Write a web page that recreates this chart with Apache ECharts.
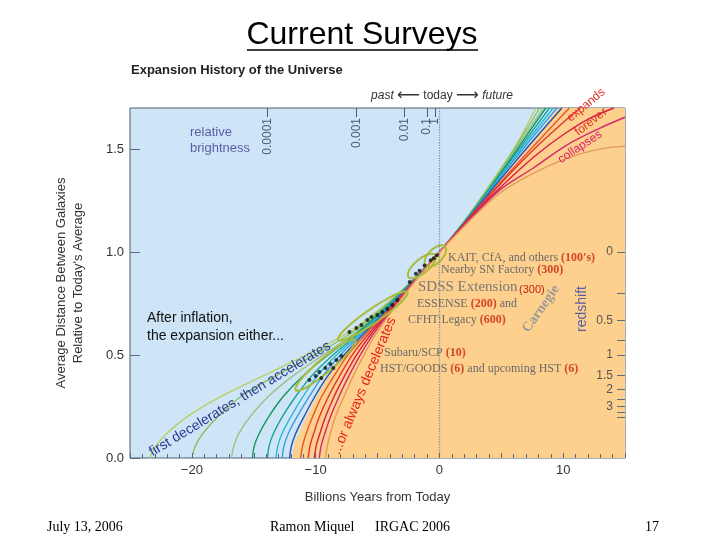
<!DOCTYPE html>
<html>
<head>
<meta charset="utf-8">
<script src="https://cdn.jsdelivr.net/npm/echarts@6/dist/echarts.min.js"></script>
<style>
  html, body { margin: 0; background: #fff; }
  #chart { width: 720px; height: 540px; }
</style>
</head>
<body>
<div id="chart"></div>
<script>
// Courbes d'expansion : [milliards d'années depuis aujourd'hui, distance relative]
const curveG1 = [[-23.4,0],[-22.9,0.06],[-22.0,0.12],[-20.4,0.2],[-17.6,0.3],[-14.2,0.4],[-10.8,0.5],[-7.6,0.6],[-5.3,0.7],[-3.3,0.8],[-1.56,0.9],[0,1],[2,1.15],[4,1.32],[6,1.5],[7.8,1.7]];
const curveG2 = [[-20.0,0],[-19.7,0.06],[-19.1,0.12],[-17.9,0.2],[-16.0,0.3],[-13.2,0.4],[-10.1,0.5],[-7.3,0.6],[-5.15,0.7],[-3.25,0.8],[-1.55,0.9],[0,1],[2,1.148],[4,1.315],[6,1.495],[8.1,1.7]];
const curveG3 = [[-16.8,0],[-16.6,0.06],[-16.2,0.12],[-15.3,0.2],[-13.8,0.3],[-11.8,0.4],[-9.4,0.5],[-7.0,0.6],[-5.0,0.7],[-3.2,0.8],[-1.54,0.9],[0,1],[2,1.146],[4,1.31],[6,1.485],[8.4,1.7]];
const curveG4 = [[-15.1,0],[-14.95,0.06],[-14.55,0.12],[-13.8,0.2],[-12.6,0.3],[-11.0,0.4],[-9.0,0.5],[-6.8,0.6],[-4.9,0.7],[-3.15,0.8],[-1.53,0.9],[0,1],[2,1.145],[4,1.305],[6,1.475],[8.6,1.7]];
const curveG5 = [[-13.9,0],[-13.75,0.06],[-13.4,0.12],[-12.7,0.2],[-11.6,0.3],[-10.3,0.4],[-8.6,0.5],[-6.6,0.6],[-4.8,0.7],[-3.1,0.8],[-1.52,0.9],[0,1],[2,1.144],[4,1.3],[6,1.465],[8.9,1.7]];
const curveC1 = [[-13.2,0],[-13.05,0.06],[-12.7,0.12],[-12.0,0.2],[-11.0,0.3],[-9.85,0.4],[-8.3,0.5],[-6.45,0.6],[-4.7,0.7],[-3.06,0.8],[-1.51,0.9],[0,1],[2,1.143],[4,1.295],[6,1.455],[9.2,1.7]];
const curveC2 = [[-12.7,0],[-12.55,0.06],[-12.2,0.12],[-11.5,0.2],[-10.5,0.3],[-9.4,0.4],[-8.0,0.5],[-6.3,0.6],[-4.62,0.7],[-3.02,0.8],[-1.5,0.9],[0,1],[2,1.142],[4,1.29],[6,1.445],[9.5,1.7]];
const curveB1 = [[-12.1,0],[-11.95,0.06],[-11.6,0.12],[-10.95,0.2],[-10.05,0.3],[-9.0,0.4],[-7.7,0.5],[-6.15,0.6],[-4.55,0.7],[-2.98,0.8],[-1.49,0.9],[0,1],[2,1.141],[4,1.285],[6,1.43],[8,1.57],[9.9,1.7]];
const curveR1 = [[-11.2,0],[-11.05,0.06],[-10.75,0.12],[-10.25,0.2],[-9.5,0.3],[-8.5,0.4],[-7.4,0.5],[-5.95,0.6],[-4.4,0.7],[-2.9,0.8],[-1.46,0.9],[0,1],[2,1.138],[4,1.275],[6,1.41],[8,1.54],[10.5,1.7]];
const curveR2 = [[-10.6,0],[-10.45,0.06],[-10.15,0.12],[-9.7,0.2],[-8.95,0.3],[-8.05,0.4],[-7.05,0.5],[-5.75,0.6],[-4.3,0.7],[-2.86,0.8],[-1.45,0.9],[0,1],[2,1.136],[4,1.27],[6,1.4],[8,1.52],[10,1.63],[11.4,1.7]];
const curveR3 = [[-10.1,0],[-9.95,0.06],[-9.65,0.12],[-9.2,0.2],[-8.5,0.3],[-7.65,0.4],[-6.7,0.5],[-5.55,0.6],[-4.2,0.7],[-2.82,0.8],[-1.44,0.9],[0,1],[2,1.134],[4,1.26],[6,1.375],[8,1.48],[10,1.57],[12,1.645],[14.1,1.7]];
const curveR4 = [[-9.7,0],[-9.55,0.06],[-9.25,0.12],[-8.8,0.2],[-8.1,0.3],[-7.3,0.4],[-6.4,0.5],[-5.35,0.6],[-4.1,0.7],[-2.78,0.8],[-1.43,0.9],[0,1],[2,1.13],[4.85,1.3],[7.5,1.405],[10.3,1.52],[12.9,1.6],[15,1.655]];
const curveR5 = [[-9.2,0],[-9.05,0.06],[-8.8,0.12],[-8.4,0.2],[-7.7,0.3],[-6.95,0.4],[-6.1,0.5],[-5.15,0.6],[-4.0,0.7],[-2.74,0.8],[-1.42,0.9],[0,1],[2,1.125],[4.85,1.285],[7.5,1.38],[10.3,1.455],[12.9,1.5],[15,1.515]];

// bord gauche de la zone orange
const orangeEdge = [[-11.9,0],[-11.75,0.06],[-11.35,0.12],[-10.75,0.2],[-9.9,0.3],[-8.9,0.4],[-7.6,0.5],[-6.1,0.6],[-4.5,0.7],[-2.95,0.8],[-1.48,0.9],[0,1],[2,1.14],[4,1.282],[6,1.425],[8,1.565],[10,1.7],[15,1.7]];

// supernovae observées
const snPoints = [[-0.2,0.985],[-0.45,0.97],[-0.7,0.96],[-1.2,0.935],[-1.6,0.91],[-1.9,0.895],[-2.4,0.855],
  [-7.27,0.612],[-6.71,0.631],[-6.3,0.646],[-5.82,0.67],[-5.49,0.685],[-5.01,0.694],[-4.61,0.709],[-4.2,0.724],[-3.8,0.743],[-3.39,0.767],
  [-10.5,0.379],[-10.0,0.398],[-9.7,0.418],[-9.21,0.437],[-8.81,0.457],[-8.32,0.476],[-7.92,0.495],[-9.54,0.389],[-8.57,0.437]];
// ellipses des relevés : extrémités [t1, a1, t2, a2]
const surveyEllipses = [[-0.81,0.952,0.16,1.01],[-2.18,0.894,-0.65,0.971],[-7.84,0.588,-2.91,0.792],[-11.3,0.345,-7.11,0.558]];

// axe du haut : luminosité relative
const brightPos = [-13.9, -6.7, -2.83, -1.0, -0.35];
const brightLabels = ['0.0001', '0.001', '0.01', '0.1', '1'];
// axe de droite : redshift
const zLabelPos = [1, 0.667, 0.5, 0.4, 0.333, 0.25];
const zLabels = ['0', '0.5', '1', '1.5', '2', '3'];
const zTickPos = [1, 0.8, 0.667, 0.571, 0.5, 0.4, 0.333, 0.286, 0.25, 0.222, 0.2];

const curveList = [
    { data: curveG1, color: '#b7cf62' },
    { data: curveG2, color: '#86c064' },
    { data: curveG3, color: '#9cbf86' },
    { data: curveG4, color: '#12985a' },
    { data: curveG5, color: '#16a394' },
    { data: curveC1, color: '#2cb6d6' },
    { data: curveC2, color: '#3a9ee2' },
    { data: curveB1, color: '#2a4ea5' },
    { data: curveR1, color: '#e2582a' },
    { data: curveR2, color: '#e53232' },
    { data: curveR3, color: '#d81c46' },
    { data: curveR4, color: '#d2286e' },
    { data: curveR5, color: '#e49a5a' }
];

const SANS = 'Liberation Sans';
const SERIF = 'Liberation Serif';

function minus(v) {
    return v < 0 ? '\u2212' + (-v) : String(v);
}

function renderEllipse(params, api) {
    const p1 = api.coord([api.value(0), api.value(1)]);
    const p2 = api.coord([api.value(2), api.value(3)]);
    const cx = (p1[0] + p2[0]) / 2, cy = (p1[1] + p2[1]) / 2;
    const rx = Math.hypot(p2[0] - p1[0], p2[1] - p1[1]) / 2 + 5;
    const ry = 7;
    const ang = Math.atan2(p2[1] - p1[1], p2[0] - p1[0]);
    const pts = [];
    for (let i = 0; i < 48; i++) {
        const th = i / 48 * Math.PI * 2;
        const ex = rx * Math.cos(th), ey = ry * Math.sin(th);
        pts.push([cx + ex * Math.cos(ang) - ey * Math.sin(ang), cy + ex * Math.sin(ang) + ey * Math.cos(ang)]);
    }
    return { type: 'polygon', shape: { points: pts }, style: { fill: 'none', stroke: '#a8bb3a', lineWidth: 2 } };
}

// axe du haut (luminosité), découpé en deux pour que les étiquettes voisines restent visibles
function brightAxis(from, to) {
    const vals = brightPos.slice(from, to);
    return {
        type: 'value', position: 'top', min: -25, max: 15, z: 10,
        axisLine: { show: false, onZero: false }, splitLine: { show: false },
        axisTick: { inside: true, length: 9, customValues: vals, lineStyle: { color: '#4a5a78' } },
        axisLabel: {
            inside: true, rotate: -90, customValues: vals, margin: 10,
            interval: 0, hideOverlap: false, showMinLabel: true, showMaxLabel: true,
            fontSize: 12, color: '#4a5a78',
            formatter: v => brightLabels[brightPos.indexOf(v)]
        }
    };
}

const series = [];
series.push({
    type: 'line', data: orangeEdge, smooth: 0.35, showSymbol: false,
    lineStyle: { width: 0 }, areaStyle: { color: '#fdd08e', opacity: 1 }, z: 1, silent: true,
    markLine: {
        silent: true, symbol: ['none', 'none'], label: { show: false },
        lineStyle: { type: 'dotted', color: '#7f8fb0', width: 1.3 },
        data: [{ xAxis: 0 }]
    }
});
curveList.forEach(c => {
    series.push({
        type: 'line', data: c.data, smooth: 0.35, showSymbol: false,
        lineStyle: { color: c.color, width: 1.4 }, z: 2
    });
});
series.push({
    type: 'custom', data: surveyEllipses, renderItem: renderEllipse,
    encode: { x: [0, 2], y: [1, 3] }, z: 3
});
series.push({
    type: 'scatter', data: snPoints, symbolSize: 4, itemStyle: { color: '#111' }, z: 4
});

const serifGray = { fontFamily: SERIF, fontSize: 12, fill: '#6a6a6a' };
const serifRed = { fontFamily: SERIF, fontSize: 12, fontWeight: 'bold', fill: '#d4452a' };

function txt(x, y, text, style, extra) {
    return Object.assign({
        type: 'text', x: x, y: y, z: 100,
        style: Object.assign({ text: text, align: 'left', verticalAlign: 'middle' }, style)
    }, extra || {});
}

const graphics = [
    txt(362, 35, 'Current Surveys', { font: '32px "' + SANS + '"', fill: '#000', align: 'center' }),
    { type: 'line', z: 100, shape: { x1: 247, y1: 50, x2: 478, y2: 50 }, style: { stroke: '#000', lineWidth: 1.5 } },
    txt(131, 70, 'Expansion History of the Universe', { font: 'bold 13px "' + SANS + '"', fill: '#222' }),
    txt(442, 96, '{i|past} {a|\u27F5} today {a|\u27F6} {i|future}', {
        font: '12px "' + SANS + '"', fill: '#333', align: 'center',
        rich: { i: { fontStyle: 'italic', fontFamily: SANS, fontSize: 12, fill: '#333' }, a: { fontFamily: 'DejaVu Sans', fontSize: 16, fill: '#333' } }
    }),
    txt(190, 140, 'relative\nbrightness', { font: '13px "' + SANS + '"', fill: '#5c5ca8', lineHeight: 16 }),
    txt(147, 327, 'After inflation,\nthe expansion either...', { font: '14px "' + SANS + '"', fill: '#111', lineHeight: 18 }),
    txt(240, 399, 'first decelerates, then accelerates', { font: '14px "' + SANS + '"', fill: '#2b3890', align: 'center' }, { rotation: 0.545 }),
    txt(364, 386, '...or always decelerates', { font: '14px "' + SANS + '"', fill: '#e8231e', align: 'center' }, { rotation: 1.176 }),
    txt(586, 105, 'expands', { font: '12px "' + SANS + '"', fill: '#e0302a', align: 'center' }, { rotation: 0.69 }),
    txt(591, 122, 'forever', { font: '12px "' + SANS + '"', fill: '#e0302a', align: 'center' }, { rotation: 0.66 }),
    txt(580, 147, 'collapses', { font: '12px "' + SANS + '"', fill: '#d8206a', align: 'center' }, { rotation: 0.58 }),
    txt(448, 258, '{g|KAIT, CfA, and others }{r|(100\'s)}', { rich: { g: serifGray, r: serifRed } }),
    txt(441, 270, '{g|Nearby SN Factory }{r|(300)}', { rich: { g: serifGray, r: serifRed } }),
    txt(418, 287, 'SDSS Extension', { font: '15px "' + SERIF + '"', fill: '#7a7a7a' }),
    txt(519, 290, '(300)', { font: '11px "' + SANS + '"', fill: '#c0220a' }),
    txt(417, 304, '{g|ESSENSE }{r|(200)}{g| and}', { rich: { g: serifGray, r: serifRed } }),
    txt(408, 320, '{g|CFHT:Legacy }{r|(600)}', { rich: { g: serifGray, r: serifRed } }),
    txt(541, 309, 'Carnegie', { font: 'bold 14px "' + SERIF + '"', fill: '#9a9a9a', align: 'center' }, { rotation: 0.96 }),
    txt(384, 353, '{g|Subaru/SCP }{r|(10)}', { rich: { g: serifGray, r: serifRed } }),
    txt(380, 369, '{g|HST/GOODS }{r|(6)}{g| and upcoming HST }{r|(6)}', { rich: { g: serifGray, r: serifRed } }),
    txt(582, 309, 'redshift', { font: '14px "' + SANS + '"', fill: '#5c5ca8', align: 'center' }, { rotation: Math.PI / 2 }),
    txt(47, 527, 'July 13, 2006', { font: '14px "' + SERIF + '"', fill: '#000' }),
    txt(270, 527, 'Ramon Miquel', { font: '14px "' + SERIF + '"', fill: '#000' }),
    txt(375, 527, 'IRGAC 2006', { font: '14px "' + SERIF + '"', fill: '#000' }),
    txt(645, 527, '17', { font: '14px "' + SERIF + '"', fill: '#000' })
];

const chart = echarts.init(document.getElementById('chart'));
const option = {
    animation: false,
    backgroundColor: '#fff',
    textStyle: { fontFamily: SANS },
    grid: {
        left: 130, right: 95, top: 108, bottom: 82,
        show: true, backgroundColor: '#cde5f7', borderColor: '#4d5c74', borderWidth: 1
    },
    xAxis: [{
        type: 'value', min: -25, max: 15, interval: 5, z: 10,
        name: 'Billions Years from Today', nameLocation: 'middle', nameGap: 33,
        nameTextStyle: { fontSize: 13, color: '#333' },
        axisLine: { show: false, onZero: false },
        axisTick: { inside: true, length: 5, lineStyle: { color: '#5a6880' } },
        minorTick: { show: true, splitNumber: 5, length: 4, lineStyle: { color: '#5a6880' } },
        axisLabel: { fontSize: 13, color: '#333', margin: 6, formatter: v => (v % 10 === 0 ? minus(v) : '') },
        splitLine: { show: false }
    }, brightAxis(0, 4), brightAxis(4, 5)],
    yAxis: [{
        type: 'value', min: 0, max: 1.7, interval: 0.5, z: 10,
        name: 'Average Distance Between Galaxies\nRelative to Today\'s Average',
        nameLocation: 'middle', nameGap: 43, nameRotate: 90,
        nameTextStyle: { fontSize: 13, color: '#333', lineHeight: 17 },
        axisLine: { show: false, onZero: false },
        axisTick: { inside: true, length: 10, lineStyle: { color: '#5a6880' } },
        axisLabel: { fontSize: 13, color: '#333', margin: 6, showMaxLabel: false, formatter: v => (Math.abs(v * 2 - Math.round(v * 2)) < 1e-6 ? v.toFixed(1) : '') },
        splitLine: { show: false }
    }, {
        type: 'value', position: 'right', min: 0, max: 1.7, z: 10,
        axisLine: { show: false, onZero: false }, splitLine: { show: false },
        axisTick: { inside: true, length: 8, customValues: zTickPos, lineStyle: { color: '#5a6880' } },
        axisLabel: {
            inside: true, customValues: zLabelPos, margin: 12, fontSize: 12, color: '#555',
            interval: 0, hideOverlap: false, showMinLabel: true, showMaxLabel: true,
            formatter: v => zLabels[zLabelPos.indexOf(v)]
        }
    }],
    series: series,
    graphic: graphics
};
chart.setOption(option);
</script>
</body>
</html>
